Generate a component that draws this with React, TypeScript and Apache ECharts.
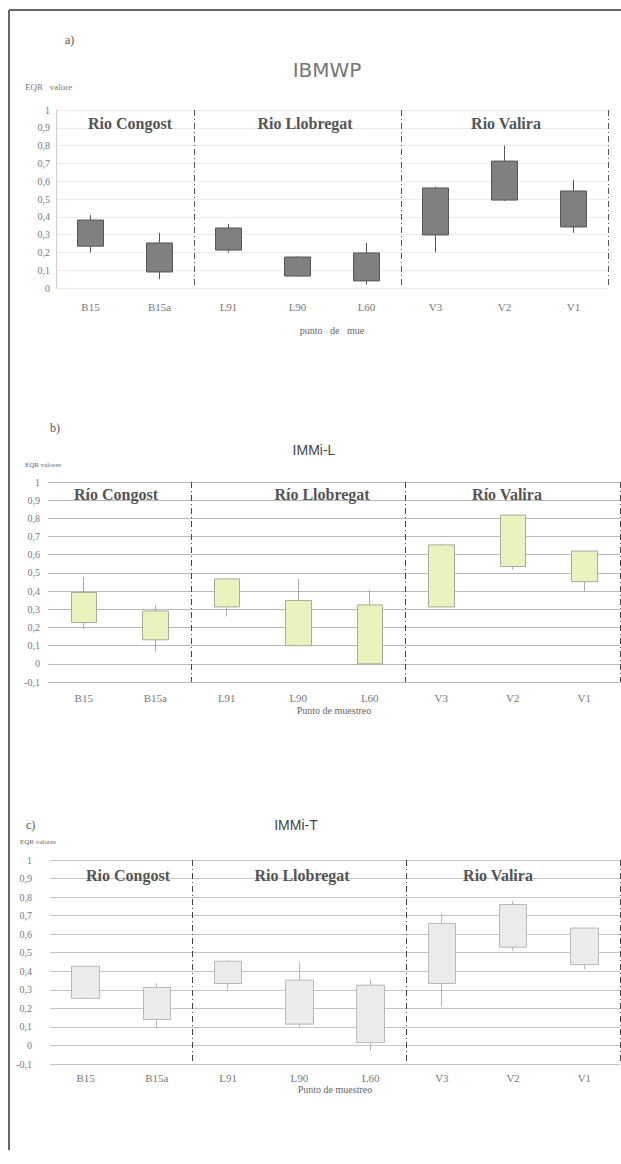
import React, { useEffect, useRef } from "react";
import * as echarts from "echarts";

const stations = ["B15", "B15a", "L91", "L90", "L60", "V3", "V2", "V1"];
const riversA = ["Rio Congost", "Rio Llobregat", "Rio Valira"];
const riversB = ["Río Congost", "Río Llobregat", "Río Valira"];
const riversC = ["Rio Congost", "Rio Llobregat", "Rio Valira"];

// Panel a) IBMWP
const ibmwpMin = [0.2, 0.05, 0.2, 0.065, 0.02, 0.2, 0.49, 0.31];
const ibmwpQ1 = [0.235, 0.09, 0.213, 0.067, 0.04, 0.298, 0.494, 0.343];
const ibmwpQ3 = [0.382, 0.253, 0.337, 0.174, 0.197, 0.562, 0.713, 0.545];
const ibmwpMax = [0.41, 0.31, 0.36, 0.18, 0.253, 0.57, 0.8, 0.607];

// Panel b) IMMi-L
const immlMin = [0.19, 0.068, 0.26, 0.1, 0.0, 0.313, 0.52, 0.4];
const immlQ1 = [0.227, 0.132, 0.313, 0.1, 0.0, 0.313, 0.535, 0.452];
const immlQ3 = [0.392, 0.29, 0.467, 0.348, 0.324, 0.654, 0.818, 0.62];
const immlMax = [0.478, 0.32, 0.47, 0.467, 0.407, 0.66, 0.82, 0.62];

// Panel c) IMMi-T
const immtMin = [0.25, 0.09, 0.3, 0.1, -0.03, 0.21, 0.51, 0.41];
const immtQ1 = [0.254, 0.14, 0.334, 0.115, 0.015, 0.334, 0.53, 0.436];
const immtQ3 = [0.427, 0.313, 0.454, 0.352, 0.325, 0.658, 0.76, 0.633];
const immtMax = [0.43, 0.335, 0.46, 0.45, 0.357, 0.71, 0.78, 0.633];

const fmt = (v: number) => String(Math.round(v * 10) / 10).replace(".", ",");

function candle(mins: number[], q1: number[], q3: number[], maxs: number[]) {
  return stations.map((_, i) => [q1[i], q3[i], mins[i], maxs[i]]);
}

export default function App() {
  const ref = useRef<HTMLDivElement>(null);
  useEffect(() => {
    if (!ref.current) return;
    const chart = echarts.init(ref.current, null, { renderer: "svg" });
    const serif = "Liberation Serif";
    const mkX = (gi: number, name: string, margin: number, nameGap: number, divColor: string) => ({
      gridIndex: gi,
      type: "category",
      data: stations,
      axisLine: { show: false },
      axisTick: { show: false },
      axisLabel: { margin, color: "#777", fontFamily: serif, fontSize: 11 },
      splitLine: {
        show: true,
        interval: (i: number) => i === 2 || i === 5,
        lineStyle: { type: [6, 3, 1, 3], color: divColor, width: 1 },
      },
      name,
      nameLocation: "middle",
      nameGap,
      nameTextStyle: { color: "#666", fontFamily: serif, fontSize: 10 },
    });
    const mkY = (gi: number, min: number, margin: number, gridColor: string, axisLine: boolean) => ({
      gridIndex: gi,
      type: "value",
      min,
      max: 1,
      interval: 0.1,
      axisLabel: { formatter: fmt, color: "#777", fontFamily: serif, fontSize: 10, margin },
      splitLine: { show: true, lineStyle: { color: gridColor, width: 1 } },
      axisLine: { show: axisLine, lineStyle: { color: "#ccc" } },
      axisTick: { show: false },
    });
    const mkSeries = (gi: number, data: number[][], fill: string, border: string, bw: number) => ({
      type: "candlestick",
      xAxisIndex: gi,
      yAxisIndex: gi,
      data,
      barWidth: bw,
      itemStyle: { color: fill, color0: fill, borderColor: border, borderColor0: border, borderWidth: 1 },
    });
    const txt = (x: number, y: number, text: string, font: any, align = "center") => ({
      type: "text",
      x,
      y,
      z: 10,
      style: { text, textAlign: align, textVerticalAlign: "middle", ...font },
    });
    const riverFont = { fontFamily: serif, fontSize: 16, fontWeight: "bold", fill: "#555" };
    chart.setOption({
      animation: false,
      backgroundColor: "#ffffff",
      grid: [
        { left: 56, top: 110, width: 552, height: 178 },
        { left: 48, top: 482, width: 572, height: 200 },
        { left: 50, top: 860, width: 570, height: 204 },
      ],
      xAxis: [
        mkX(0, "punto   de   mue", 13, 37, "#555"),
        mkX(1, "Punto de muestreo", 10, 23, "#444"),
        mkX(2, "Punto de muestreo", 8, 20, "#444"),
      ],
      yAxis: [
        mkY(0, 0, 6, "#ececec", true),
        mkY(1, -0.1, 8, "#b8b8b8", false),
        mkY(2, -0.1, 18, "#c4c4c4", false),
      ],
      series: [
        mkSeries(0, candle(ibmwpMin, ibmwpQ1, ibmwpQ3, ibmwpMax), "#808080", "#555555", 26),
        mkSeries(1, candle(immlMin, immlQ1, immlQ3, immlMax), "#eaf3bd", "#a9aa9c", 26),
        mkSeries(2, candle(immtMin, immtQ1, immtQ3, immtMax), "#ebebeb", "#b8b8b8", 28),
      ],
      graphic: [
        { type: "line", shape: { x1: 9, y1: 10, x2: 621, y2: 10 }, style: { stroke: "#666", lineWidth: 2 } },
        { type: "line", shape: { x1: 9, y1: 10, x2: 9, y2: 1150 }, style: { stroke: "#666", lineWidth: 2 } },
        txt(65, 40, "a)", { fontFamily: serif, fontSize: 12, fill: "#555" }, "left"),
        txt(327, 70, "IBMWP", { fontFamily: "DejaVu Sans", fontSize: 20, fill: "#777" }),
        txt(25, 87, "EQR   valore", { fontFamily: serif, fontSize: 9, fill: "#777" }, "left"),
        txt(130, 123, riversA[0], riverFont),
        txt(305, 123, riversA[1], riverFont),
        txt(506, 123, riversA[2], riverFont),
        txt(50, 428, "b)", { fontFamily: serif, fontSize: 12, fill: "#555" }, "left"),
        txt(314, 450, "IMMi-L", { fontFamily: "Liberation Sans", fontSize: 14, fill: "#444" }),
        txt(25, 465, "EQR valores", { fontFamily: serif, fontSize: 7, fill: "#666" }, "left"),
        txt(116, 494, riversB[0], riverFont),
        txt(322, 494, riversB[1], riverFont),
        txt(507, 494, riversB[2], riverFont),
        txt(26, 825, "c)", { fontFamily: serif, fontSize: 12, fill: "#555" }, "left"),
        txt(296, 825, "IMMi-T", { fontFamily: "Liberation Sans", fontSize: 14, fill: "#444" }),
        txt(20, 842, "EQR valores", { fontFamily: serif, fontSize: 7, fill: "#666" }, "left"),
        txt(128, 875, riversC[0], riverFont),
        txt(302, 875, riversC[1], riverFont),
        txt(498, 875, riversC[2], riverFont),
      ],
    });
    return () => chart.dispose();
  }, []);
  return (
    <div
      ref={ref}
      style={{ position: "fixed", left: 0, top: 0, width: 621, height: 1164, background: "#fff" }}
    />
  );
}
